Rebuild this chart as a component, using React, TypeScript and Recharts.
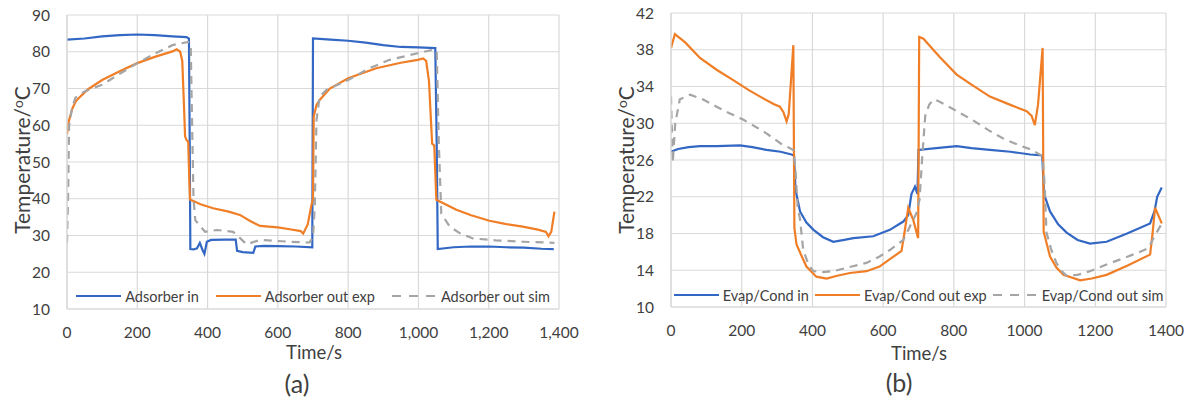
import React from "react";
import { LineChart, Line, XAxis, YAxis, CartesianGrid } from "recharts";

// ---------- Chart (a): Adsorber ----------
const adsInT = [0, 50, 100, 150, 200, 250, 300, 340, 347, 349, 351, 360, 370, 378, 386, 391, 398, 410, 450, 480, 484, 500, 530, 536, 560, 600, 650, 698, 700, 750, 800, 850, 900, 950, 1000, 1048, 1052, 1055, 1100, 1150, 1200, 1250, 1300, 1350, 1385];
const adsInV = [83.3, 83.6, 84.2, 84.5, 84.7, 84.5, 84.2, 84.0, 83.6, 57, 26.3, 26.2, 26.5, 28, 26, 25, 28.3, 28.8, 28.9, 28.9, 25.8, 25.5, 25.3, 27, 27.2, 27.1, 27, 26.8, 83.6, 83.3, 83.0, 82.5, 81.8, 81.3, 81.2, 81.0, 55, 26.3, 26.8, 27, 27, 26.8, 26.7, 26.4, 26.3];

const adsOutExpT = [0, 5, 15, 25, 40, 60, 100, 150, 200, 250, 300, 312, 322, 328, 333, 336, 340, 345, 348, 350, 380, 416, 460, 492, 520, 549, 600, 634, 665, 672, 685, 695, 700, 702, 710, 719, 748, 800, 880, 950, 998, 1013, 1022, 1030, 1039, 1045, 1051, 1108, 1150, 1202, 1250, 1297, 1340, 1363, 1370, 1378, 1387];
const adsOutExpV = [57.5, 61, 64.5, 66.5, 68, 69.8, 72.3, 74.7, 76.9, 78.6, 80.1, 80.7, 80, 77.5, 65, 57, 56, 55.5, 45, 39.8, 38.5, 37.4, 36.5, 35.6, 34, 32.6, 32.2, 31.7, 31.2, 30.5, 33, 38, 40, 62.3, 65.5, 66.9, 70, 72.8, 75.5, 77, 77.8, 78.2, 77.5, 72, 55, 54.5, 39.7, 37, 35.5, 34, 33.1, 32.4, 31.6, 31, 29.8, 31, 36.5];

const adsOutSimT = [0, 3, 6, 15, 24, 50, 100, 150, 200, 250, 300, 345, 352, 356, 360, 365, 375, 393, 426, 473, 490, 511, 549, 600, 634, 690, 700, 705, 710, 719, 738, 800, 860, 918, 998, 1040, 1052, 1058, 1065, 1089, 1120, 1155, 1220, 1297, 1387];
const adsOutSimV = [28, 40, 60, 65, 67.5, 69.2, 71, 74, 76.9, 79.5, 81.8, 82.7, 82, 60, 40, 34.2, 33, 31, 31.5, 31, 29.5, 27.6, 28.8, 28.5, 28.3, 28.1, 29.5, 38, 61.4, 67.8, 69.6, 72.3, 75.5, 77.8, 79.6, 80.5, 80.2, 55, 36, 32.4, 30.5, 29.2, 28.7, 28.3, 28];

// ---------- Chart (b): Evap/Cond ----------
const evInT = [0, 20, 50, 82, 130, 195, 230, 270, 310, 341, 348, 352, 365, 383, 403, 430, 459, 490, 516, 572, 619, 657, 671, 680, 690, 697, 700, 750, 808, 850, 902, 960, 1016, 1050, 1055, 1072, 1095, 1119, 1150, 1185, 1232, 1290, 1355, 1368, 1375, 1388];
const evInV = [26.9, 27.2, 27.4, 27.5, 27.5, 27.6, 27.4, 27.1, 26.9, 26.6, 26.5, 22.8, 20.4, 19.2, 18.4, 17.6, 17.1, 17.3, 17.5, 17.7, 18.4, 19.3, 20, 22.3, 23.1, 22.3, 27.1, 27.3, 27.5, 27.3, 27.1, 26.9, 26.6, 26.5, 22.3, 20.4, 19, 18.1, 17.3, 16.9, 17.1, 18, 19.1, 20.5, 22, 23];

const evOutExpT = [0, 11, 40, 82, 130, 176, 220, 252, 290, 308, 318, 327, 333, 340, 346, 349, 355, 370, 383, 411, 440, 470, 506, 553, 590, 619, 652, 660, 671, 685, 699, 702, 714, 760, 808, 850, 902, 960, 1006, 1020, 1029, 1038, 1051, 1054, 1072, 1090, 1110, 1157, 1190, 1232, 1290, 1355, 1362, 1369, 1378, 1388];
const evOutExpV = [38.2, 39.7, 38.8, 37.1, 35.8, 34.7, 33.6, 32.9, 32.1, 31.8, 31.2, 30.2, 31, 35, 38.5, 18.6, 16.8, 15.5, 14.4, 13.3, 13.1, 13.4, 13.7, 13.9, 14.4, 15.2, 16.1, 18, 20.8, 19.5, 17.5, 39.4, 39.2, 37.2, 35.3, 34.2, 32.9, 32, 31.3, 30.8, 29.8, 32, 38.2, 18.2, 15.5, 14.3, 13.5, 12.9, 13.1, 13.5, 14.5, 15.7, 18, 20.8, 20, 19.1];

const evOutSimT = [0, 5, 12, 25, 54, 90, 129, 165, 204, 240, 270, 310, 346, 352, 358, 365, 374, 390, 403, 430, 459, 500, 553, 590, 619, 657, 694, 703, 710, 719, 730, 743, 757, 800, 851, 900, 946, 985, 1021, 1051, 1057, 1062, 1075, 1090, 1105, 1119, 1150, 1185, 1230, 1279, 1320, 1350, 1365, 1388];
const evOutSimV = [32.9, 25.7, 30, 32.6, 33.1, 32.6, 31.8, 31.1, 30.4, 29.6, 28.9, 27.8, 27.1, 25, 21, 19.5, 16.2, 14.5, 13.9, 13.8, 13.9, 14.3, 14.8, 15.5, 16.2, 17.3, 20.2, 21.7, 26, 30.8, 32, 32.6, 32.4, 31.5, 30.4, 29.2, 28.2, 27.6, 27.1, 26.4, 23.1, 18.1, 16.3, 14.8, 13.9, 13.4, 13.5, 13.9, 14.6, 15.3, 15.9, 16.4, 17.5, 19.1];

const xTicks = [0, 200, 400, 600, 800, 1000, 1200, 1400];
const yTicksA = [10, 20, 30, 40, 50, 60, 70, 80, 90];
const yTicksB = [10, 14, 18, 22, 26, 30, 34, 38, 42];

const namesA = ["Adsorber in", "Adsorber out exp", "Adsorber out sim"];
const namesB = ["Evap/Cond in", "Evap/Cond out exp", "Evap/Cond out sim"];

const BLUE = "#3367c4";
const ORANGE = "#f07e26";
const GRAY = "#a5a5a5";
const GRID = "#d9d9d9";
const TEXT = "#404040";
const FONT = "Lato, 'Open Sans', sans-serif";

const zip = (t: number[], v: number[]) => t.map((x, i) => ({ t: x, v: v[i] }));

const seriesStyles = [
  { color: BLUE, dash: undefined as string | undefined },
  { color: ORANGE, dash: undefined as string | undefined },
  { color: GRAY, dash: "8 6" },
];

type PanelProps = {
  left: number;
  margin: { top: number; right: number; bottom: number; left: number };
  yWidth: number;
  yDomain: [number, number];
  yTicks: number[];
  series: { t: number; v: number }[][];
  comma: boolean;
};

const Panel = ({ left, margin, yWidth, yDomain, yTicks, series, comma }: PanelProps) => (
  <div style={{ position: "absolute", left, top: 0 }}>
    <LineChart width={590} height={403} margin={margin} style={{ fontFamily: FONT }}>
      <CartesianGrid stroke={GRID} strokeWidth={1.2} />
      <XAxis
        type="number"
        dataKey="t"
        domain={[0, 1400]}
        ticks={xTicks}
        allowDataOverflow
        height={30}
        tickLine={false}
        axisLine={{ stroke: GRID, strokeWidth: 1.2 }}
        tickSize={0}
        tickMargin={18}
        tick={{ fill: TEXT, fontSize: 15.5, fontFamily: FONT }}
        tickFormatter={(v: number) => (comma ? v.toLocaleString("en-US") : String(v))}
      />
      <YAxis
        type="number"
        domain={yDomain}
        ticks={yTicks}
        allowDataOverflow
        width={yWidth}
        tickLine={false}
        axisLine={{ stroke: GRID, strokeWidth: 1.2 }}
        tickSize={0}
        tickMargin={17}
        tick={{ fill: TEXT, fontSize: 15.5, fontFamily: FONT }}
      />
      {series.map((d, i) => (
        <Line
          key={i}
          data={d}
          dataKey="v"
          type="linear"
          stroke={seriesStyles[i].color}
          strokeWidth={2.2}
          strokeDasharray={seriesStyles[i].dash}
          dot={false}
          activeDot={false}
          isAnimationActive={false}
        />
      ))}
    </LineChart>
  </div>
);

const LegendRow = ({ left, width, top, names, gap }: { left: number; width: number; top: number; names: string[]; gap: number }) => (
  <div
    style={{
      position: "absolute",
      left,
      top,
      width,
      height: 18,
      display: "flex",
      justifyContent: "center",
      alignItems: "center",
      gap,
      fontFamily: FONT,
      fontSize: 14.5,
      color: TEXT,
      whiteSpace: "nowrap",
    }}
  >
    {names.map((n, i) => (
      <div key={n} style={{ display: "flex", alignItems: "center", gap: 4 }}>
        <svg width={45} height={6}>
          <line x1={0} y1={3} x2={45} y2={3} stroke={seriesStyles[i].color} strokeWidth={2.2} strokeDasharray={seriesStyles[i].dash ? "9 8" : undefined} />
        </svg>
        <span>{n}</span>
      </div>
    ))}
  </div>
);

const Centered = ({ x, y, size, rotate, children }: { x: number; y: number; size: number; rotate?: boolean; children: React.ReactNode }) => (
  <div
    style={{
      position: "absolute",
      left: x,
      top: y,
      transform: `translate(-50%, -50%)${rotate ? " rotate(-90deg)" : ""}`,
      fontFamily: FONT,
      fontSize: size,
      color: TEXT,
      whiteSpace: "nowrap",
      lineHeight: 1,
    }}
  >
    {children}
  </div>
);

const YTitle = () => (
  <span>
    Temperature/<sup style={{ fontSize: "0.65em", verticalAlign: "0.45em" }}>o</sup>C
  </span>
);

export default function App() {
  const seriesA = [zip(adsInT, adsInV), zip(adsOutExpT, adsOutExpV), zip(adsOutSimT, adsOutSimV)];
  const seriesB = [zip(evInT, evInV), zip(evOutExpT, evOutExpV), zip(evOutSimT, evOutSimV)];
  return (
    <div style={{ position: "absolute", left: 0, top: 0, width: 1190, height: 403, background: "#fff", overflow: "hidden" }}>
      <Panel
        left={0}
        margin={{ top: 15, right: 31, bottom: 64, left: 0 }}
        yWidth={67}
        yDomain={[10, 90]}
        yTicks={yTicksA}
        series={seriesA}
        comma={true}
      />
      <Panel
        left={600}
        margin={{ top: 13, right: 24, bottom: 66, left: 0 }}
        yWidth={71}
        yDomain={[10, 42]}
        yTicks={yTicksB}
        series={seriesB}
        comma={false}
      />
      <LegendRow left={67} width={492} top={287} names={namesA} gap={17} />
      <LegendRow left={671} width={495} top={286} names={namesB} gap={6} />
      <Centered x={21} y={160} size={21} rotate>
        <YTitle />
      </Centered>
      <Centered x={625} y={160} size={21} rotate>
        <YTitle />
      </Centered>
      <Centered x={314} y={352} size={18.5}>Time/s</Centered>
      <Centered x={919} y={353} size={18.5}>Time/s</Centered>
      <Centered x={297} y={383} size={25}>(a)</Centered>
      <Centered x={899} y={382} size={25}>(b)</Centered>
    </div>
  );
}
